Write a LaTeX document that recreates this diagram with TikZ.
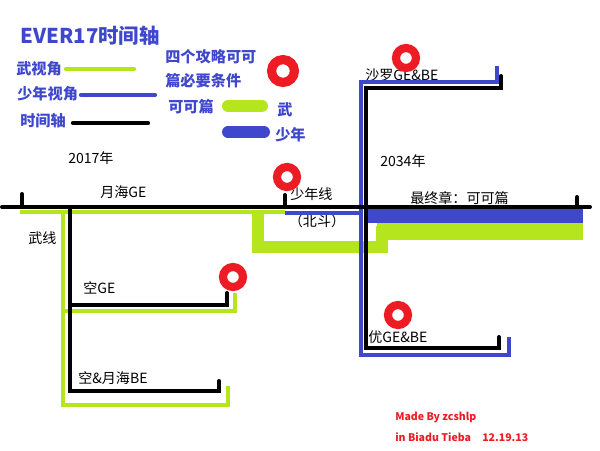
\documentclass[tikz,border=0pt]{standalone}
\usepackage{fontspec}
\setmainfont{Noto Sans CJK SC}
\definecolor{lime}{HTML}{B5E61D}
\definecolor{ind}{HTML}{3F48CC}
\definecolor{rd}{HTML}{ED1C24}
\begin{document}
\begin{tikzpicture}[x=0.025cm,y=-0.025cm,
  blk/.style={line width=2.8pt, black, line cap=round},
  grn/.style={line width=2.8pt, lime},
  blu/.style={line width=3pt, ind},
  lbl/.style={font=\fontsize{10}{12}\selectfont, inner sep=0pt, anchor=west},
  leg/.style={font=\bfseries\fontsize{10.8}{12}\selectfont, text=ind, inner sep=0pt, anchor=west},
  sig/.style={font=\bfseries\fontsize{7.5}{9}\selectfont, text=rd, inner sep=0pt, anchor=west},
  ring/.style={draw=rd, circle, inner sep=0pt, line width=5.8pt, minimum size=0.5cm},
  bigring/.style={draw=rd, circle, inner sep=0pt, line width=6.5pt, minimum size=0.57cm}]
\useasboundingbox (0,0) rectangle (600,450);
% title and legend
\node[font=\bfseries\fontsize{14.5}{16}\selectfont, text=ind, inner sep=0pt] (title) at (90,36) {EVER17时间轴};
\node[leg] (l1) at (16,69) {武视角};
\node[leg] (l2) at (17,94) {少年视角};
\node[leg] (l3) at (20,121) {时间轴};
\node[leg] (l4) at (165,57) {四个攻略可可};
\node[leg] (l5) at (165,81) {篇必要条件};
\node[leg] (l6) at (168,107) {可可篇};
\node[leg] (l7) at (277,110) {武};
\node[leg] (l8) at (275,135) {少年};
\draw[lime, line width=3pt, line cap=round] (66,69) -- (134,69);
\draw[ind, line width=3pt, line cap=round] (81,95) -- (155,95);
\draw[black, line width=3pt, line cap=round] (73,123) -- (148,123);
\draw[lime, line width=8.5pt, line cap=round] (228,106) -- (262,106);
\draw[ind, line width=8.5pt, line cap=round] (228,132) -- (264,132);
% labels
\node[lbl] (y2017) at (68,158) {2017年};
\node[lbl] (yhge) at (100,192) {月海GE};
\node[lbl] (wx) at (28,238) {武线};
\node[lbl] (kge) at (83,288) {空GE};
\node[lbl] (kbe) at (78,378) {空\&月海BE};
\node[lbl] (snx) at (290,194) {少年线};
\node[lbl, anchor=center] (bd) at (317,221) {（北斗）};
\node[lbl] (zz) at (410,198) {最终章：可可篇};
\node[lbl] (y2034) at (380,161) {2034年};
\node[lbl] (sl) at (365,75) {沙罗GE\&BE};
\node[lbl] (you) at (368,337) {优GE\&BE};
\node[sig] (s1) at (395,417) {Made By zcshlp};
\node[sig] (s2) at (395,437) {in Biadu Tieba};
\node[sig] (s3) at (482,438) {12.19.13};
% green
\draw[grn] (20,212) -- (285,212);
\draw[grn] (63,212) -- (63,405) -- (228,405) -- (228,386);
\draw[grn] (63,311) -- (235,311) -- (235,293);
\draw[lime, line width=8.5pt] (258,212) -- (258,247) -- (382,247) -- (382,226);
\fill[lime] (377,223) rectangle (583,240);
% blue
\draw[blu] (285,213) -- (361,213);
\draw[blu] (497,66) -- (497,82) -- (361,82) -- (361,355) -- (509,355) -- (509,337);
\fill[ind] (366,208) rectangle (583,223);
% black
\draw[blk] (2,207) -- (590,207);
\draw[blk] (22,194) -- (22,207);
\draw[blk] (285,195) -- (285,207);
\draw[blk] (577,197) -- (577,207);
\draw[blk] (501,76) -- (501,88) -- (366,88) -- (366,348) -- (499,348) -- (499,337);
\draw[blk] (70,207) -- (70,391) -- (219,391) -- (219,381);
\draw[blk] (70,305) -- (227,305) -- (227,293);
% rings
\node[bigring] (r0) at (283,71) {};
\node[ring] (r1) at (287,177) {};
\node[ring] (r2) at (406,58) {};
\node[ring] (r3) at (233,277) {};
\node[ring] (r4) at (398,315) {};
\end{tikzpicture}
\end{document}
